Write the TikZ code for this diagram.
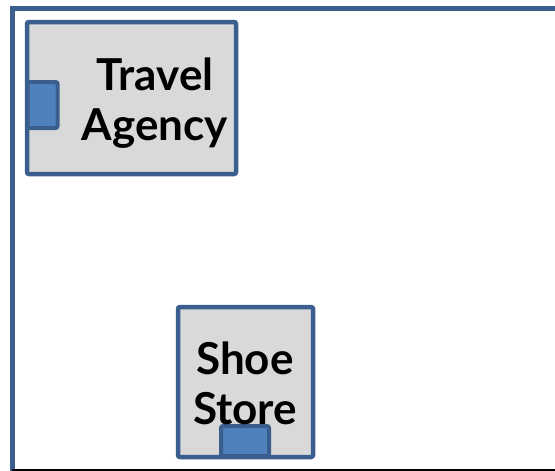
\documentclass[tikz,border=0pt]{standalone}
\usepackage{fontspec}
\setmainfont{Lato}
\definecolor{edge}{HTML}{3A5F8E}
\definecolor{boxfill}{HTML}{D9D9D9}
\definecolor{portfill}{HTML}{4F81BD}
\definecolor{thin}{HTML}{7C9BC4}
\tikzset{
  comp/.style={draw=edge, fill=boxfill, line width=4.5pt, rounded corners=2pt, inner sep=0pt},
  port/.style={draw=edge, fill=portfill, line width=4pt, rounded corners=2pt, inner sep=0pt},
  lbl/.style={font=\fontsize{44}{50}\selectfont\bfseries, align=center, inner sep=0pt, text=black}
}
\begin{document}
\begin{tikzpicture}[x=1pt,y=-1pt]
\useasboundingbox (0,0) rectangle (555,471);
% frame
\coordinate (f1) at (12,560);
\coordinate (f2) at (12,8.5);
\coordinate (f3) at (600,8.5);
\draw[edge, line width=5pt] (f1) -- (f2) -- (f3);
\coordinate (b1) at (12,470);
\coordinate (b2) at (600,470);
\draw[thin, line width=2pt] (b1) -- (b2);
% travel agency
\node[comp, minimum width=209pt, minimum height=152pt] (ta) at (131.5,98) {};
\node[port, minimum width=30pt, minimum height=46pt] (tap) at (42.5,105) {};
\node[lbl] (tat) at (155,103) {Travel\\Agency};
% shoe store
\node[comp, minimum width=135pt, minimum height=150pt] (ss) at (245.5,382) {};
\node[port, minimum width=48pt, minimum height=30pt] (ssp) at (245,441) {};
\node[lbl] (sst) at (245,383) {Shoe\\Store};
\end{tikzpicture}
\end{document}
